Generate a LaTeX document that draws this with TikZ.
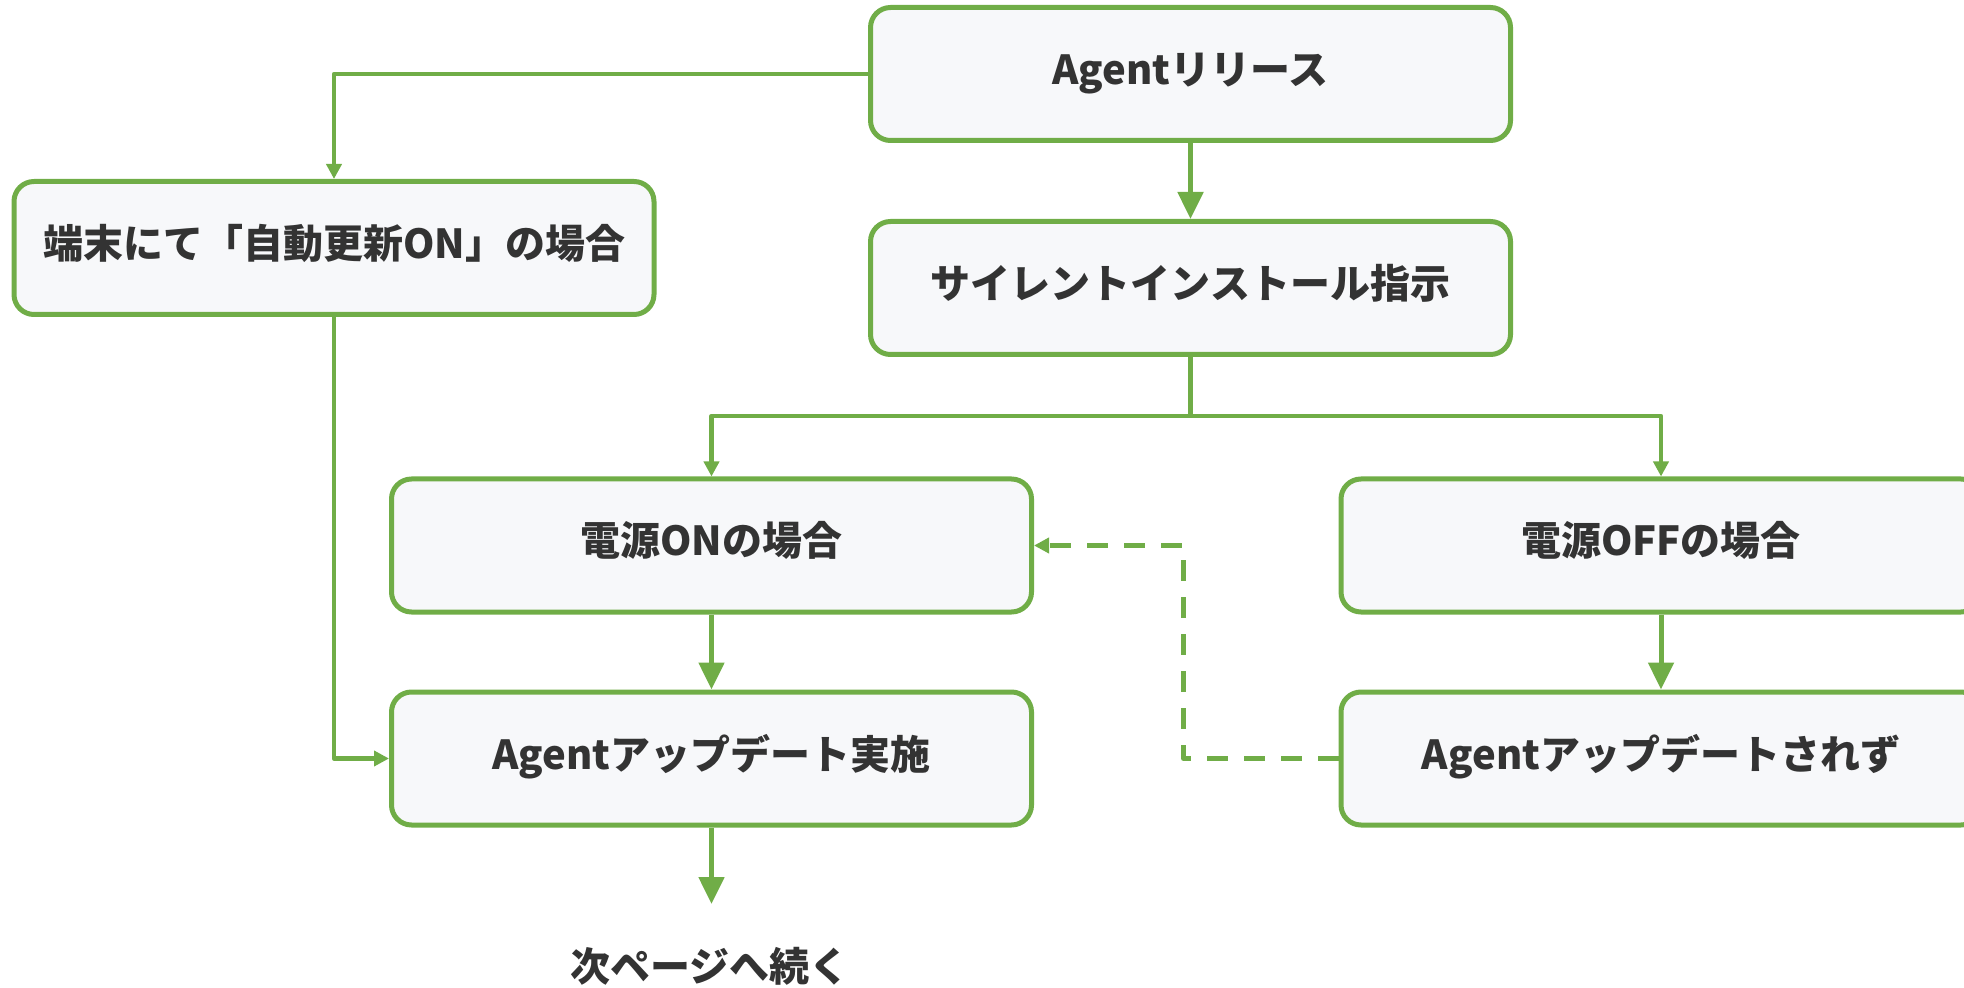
\documentclass[tikz,border=0pt]{standalone}
\usepackage{fontspec}
\setmainfont{Noto Sans CJK JP}
\usepackage{tikz}
\usetikzlibrary{arrows.meta,positioning}
\usepackage{xcolor}
\definecolor{lgreen}{HTML}{70AD47}
\definecolor{lgray}{HTML}{F7F8FA}
\definecolor{dtext}{HTML}{333333}
\tikzset{
flow_n/.style = {rectangle, rounded corners=10pt, draw=lgreen, fill=lgray, line width=2.5pt, minimum width=320pt, minimum height=66.5pt, inner sep=0pt, text height=16pt, text depth=5.5pt, align=center, text=dtext, font=\fontsize{20}{24}\selectfont\bfseries},% boite d'etape
flow_t/.style = {inner sep=0pt, text=dtext, font=\fontsize{20}{24}\selectfont\bfseries},% texte libre
link_l/.style = {draw=lgreen, line width=2.3pt, line join=round},% trait simple
link_e/.style = {link_l, -{Triangle[width=7.5pt,length=7.5pt]}},% coude, petite fleche
link_a/.style = {draw=lgreen, line width=2.5pt, -{Triangle[width=12.5pt,length=13.5pt]}},% droite, grande fleche
link_d/.style = {link_e, line width=2.5pt, dash pattern=on 10.5pt off 8pt}% pointille
}

\begin{document}
\begin{tikzpicture}[x=0.5pt,y=-0.5pt]
  \clip (0,0) rectangle (1964,988);
  \node [flow_n] (rel)  at (1190.5,74)  {Agentリリース};
  \node [flow_n] (sil)  at (1190.5,288) {サイレントインストール指示};
  \node [flow_n] (auto) at (334,248)    {端末にて「自動更新ON」の場合};
  \node [flow_n] (on)   at (711.5,545.5) {電源ONの場合};
  \node [flow_n] (off)  at (1661,545.5) {電源OFFの場合};
  \node [flow_n] (do)   at (711.5,758.5) {Agentアップデート実施};
  \node [flow_n] (skip) at (1661,758.5) {Agentアップデートされず};
  \node [flow_t] (next) at (710,966)    {次ページへ続く};
  \coordinate (split) at (1190.5,416);
  \coordinate (cont)  at (711.5,904);

  \draw [link_a] (rel) -- (sil);
  \draw [link_e] (rel.west) -| (auto.north);
  \draw [link_l] (sil.south) -- (split);
  \draw [link_e] (split) -| (on.north);
  \draw [link_e] (split) -| (off.north);
  \draw [link_e] (auto.south) |- (do.west);
  \draw [link_a] (on) -- (do);
  \draw [link_a] (off) -- (skip);
  \draw [link_d] (skip.west) -- ++(-155,0) |- (on.east);
  \draw [link_a] (do.south) -- (cont);
\end{tikzpicture}
\end{document}
